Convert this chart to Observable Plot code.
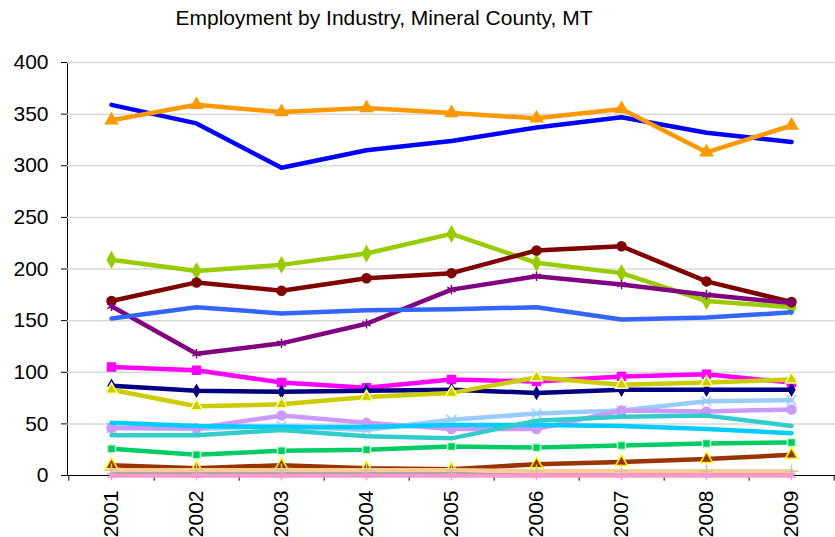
<!DOCTYPE html>
<html><head><meta charset="utf-8">
<script src="https://cdn.jsdelivr.net/npm/d3@7"></script>
<script src="https://cdn.jsdelivr.net/npm/@observablehq/plot@0.6"></script>
<style>
body{margin:0;background:#fff;}
#wrap{position:relative;width:835px;height:537px;}
#title{position:absolute;left:0;top:6px;width:768px;text-align:center;font:21px "Liberation Sans",Arial,sans-serif;color:#000;white-space:nowrap;}
#chart{position:absolute;left:0;top:0;}
</style></head>
<body>
<div id="wrap"><div id="chart"></div><div id="title">Employment by Industry, Mineral County, MT</div></div>
<script>
const years = ["2001","2002","2003","2004","2005","2006","2007","2008","2009"];
const yTicks = [0, 50, 100, 150, 200, 250, 300, 350, 400];

const blueSeries     = [359, 341, 298, 315, 324, 337, 347, 332, 323];
const orangeSeries   = [344, 359, 352, 356, 351, 346, 355, 313, 339];
const limeSeries     = [209, 198, 204, 215, 234, 206, 196, 169, 163];
const maroonSeries   = [169, 187, 179, 191, 196, 218, 222, 188, 168];
const purpleSeries   = [164, 118, 128, 147, 180, 193, 185, 175, 167];
const royalSeries    = [152, 163, 157, 160, 161, 163, 151, 153, 158];
const magentaSeries  = [105, 102, 90, 85, 93, 91, 96, 98, 90];
const navySeries     = [87, 82, 81, 82, 83, 80, 83, 83, 83];
const oliveSeries    = [83, 67, 69, 76, 80, 95, 88, 90, 93];
const skySeries      = [46, 45, 48, 44, 54, 60, 63, 72, 73];
const lavenderSeries = [46, 46, 58, 51, 45, 45, 63, 62, 64];
const cyanSeries     = [51, 48, 47, 47, 49, 49, 48, 45, 41];
const tealSeries     = [39, 39, 44, 38, 36, 53, 57, 58, 48];
const greenSeries    = [26, 20, 24, 25, 28, 27, 29, 31, 32];
const brownSeries    = [10, 7, 10, 7, 6, 11, 13, 16, 20];
const peachSeries    = [5, 5, 5, 5, 5, 4, 4, 4, 4];
const darkTealSeries = [1, 1, 1, 1, 1, 3, 1, 1, 1];
const pinkSeries     = [0, 0, 0, 0, 0, 0, 0, 0, 0];

// styling (not data)
const seriesStyles = [
  {values: blueSeries,     color: "#0000FF"},
  {values: orangeSeries,   color: "#FF9900", symbol: "triangle", fill: "#FF9900", stroke: "#FF9900"},
  {values: limeSeries,     color: "#99CC00", symbol: "diamond",  fill: "#99CC00", stroke: "#99CC00"},
  {values: maroonSeries,   color: "#800000", symbol: "circle",   fill: "#800000", stroke: "#800000"},
  {values: purpleSeries,   color: "#800080", symbol: "asterisk", fill: "none",    stroke: "#800080"},
  {values: royalSeries,    color: "#3366FF"},
  {values: magentaSeries,  color: "#FF00FF", symbol: "square",   fill: "#FF00FF", stroke: "#FF00FF"},
  {values: navySeries,     color: "#000080", symbol: "diamond",  fill: "#000080", stroke: "#000080", r: 3.5},
  {values: oliveSeries,    color: "#CCCC00", symbol: "triangle", fill: "#CCCC00", stroke: "#FFFF99"},
  {values: skySeries,      color: "#99CCFF", symbol: "times",    fill: "none",    stroke: "#99CCFF"},
  {values: lavenderSeries, color: "#CC99FF", symbol: "circle",   fill: "#CC99FF", stroke: "#CC99FF"},
  {values: cyanSeries,     color: "#00CCFF"},
  {values: tealSeries,     color: "#33CCCC"},
  {values: greenSeries,    color: "#00CC66", symbol: "square",   fill: "#00CC66", stroke: "#CCFFCC"},
  {values: brownSeries,    color: "#993300", symbol: "triangle", fill: "#993300", stroke: "#FFFF00"},
  {values: darkTealSeries, color: "#008080"},
  {values: peachSeries,    color: "#FFCC99", symbol: "plus",     fill: "none",    stroke: "#CCCC99"},
  {values: pinkSeries,     color: "#FF99CC", symbol: "asterisk", fill: "none",    stroke: "#FF99CC"}
];

const W = 835, H = 537, mL = 67, mR = 0, mT = 62, mB = 62;
const halfStep = (W - mL - mR) / years.length / 2;

const marks = [
  Plot.ruleY(yTicks.filter(d => d > 0), {y: d => d, stroke: "#D9D9D9", strokeWidth: 1.5}),
  Plot.ruleX(years, {x: d => d, dx: halfStep, y1: 0, y2: -5.5, stroke: "#000", strokeWidth: 1}),
  Plot.ruleX(years.slice(0, 1), {x: d => d, dx: -halfStep, y1: 0, y2: -5.5, stroke: "#000", strokeWidth: 1}),
  Plot.ruleY([0], {stroke: "#000", strokeWidth: 1.2})
];
for (const s of seriesStyles) {
  const rows = years.map((yr, i) => ({year: yr, value: s.values[i]}));
  marks.push(Plot.line(rows, {x: "year", y: "value", stroke: s.color, strokeWidth: 4.5, strokeLinejoin: "round", strokeLinecap: "round"}));
  if (s.symbol) {
    marks.push(Plot.dot(rows, {x: "year", y: "value", symbol: () => s.symbol, r: s.r || 4.5, fill: s.fill, stroke: s.stroke, strokeWidth: 1.5}));
  }
}

const chart = Plot.plot({
  width: W, height: H,
  marginLeft: mL, marginRight: mR, marginTop: mT, marginBottom: mB,
  style: {fontFamily: "'Liberation Sans', Arial, sans-serif", fontSize: "21px", color: "#000", background: "#fff", overflow: "visible"},
  x: {type: "point", domain: years, padding: 0.5, tickSize: 0, tickPadding: 15, tickRotate: -90, label: null},
  y: {domain: [0, 400], ticks: yTicks, tickSize: 6, tickPadding: 13, label: null, line: true},
  symbol: {type: "identity"},
  marks
});
document.getElementById("chart").appendChild(chart);
</script>
</body></html>
